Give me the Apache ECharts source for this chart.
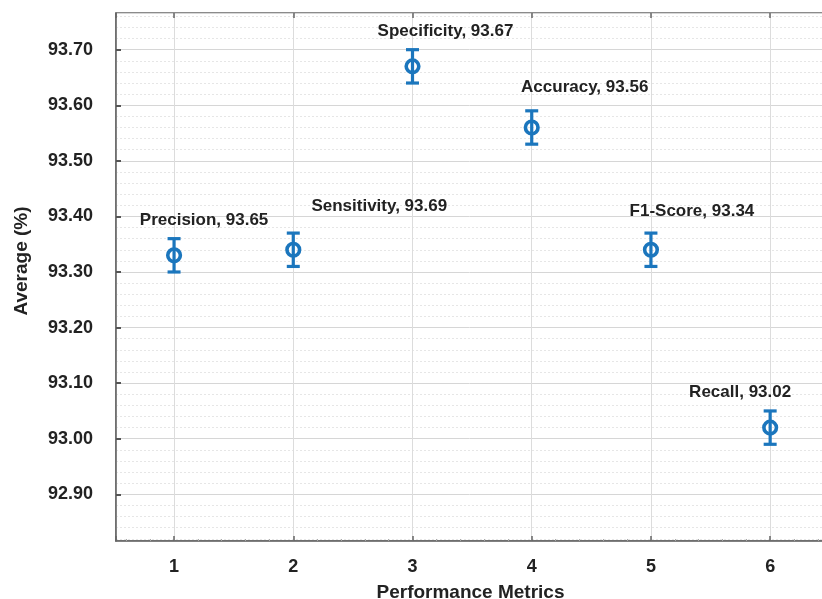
<!DOCTYPE html>
<html>
<head>
<meta charset="utf-8">
<script src="https://cdn.jsdelivr.net/npm/echarts@6/dist/echarts.min.js"></script>
<style>
  html, body { margin: 0; padding: 0; background: #fff; }
  #chart { width: 822px; height: 599px; }
</style>
</head>
<body>
<div id="chart"></div>
<script>
// Performance metrics: mean value with +/- error bar per metric
const metricIndex = [1, 2, 3, 4, 5, 6];
const metricNames = ['Precision', 'Sensitivity', 'Specificity', 'Accuracy', 'F1-Score', 'Recall'];
const meanValues = [93.33, 93.34, 93.67, 93.56, 93.34, 93.02];
const errorValues = [0.03, 0.03, 0.03, 0.03, 0.03, 0.03];
// values printed in each annotation
const reportedValues = [93.65, 93.69, 93.67, 93.56, 93.34, 93.02];

// annotation offsets (label centre relative to marker, px)
const labelOffsets = [[30, -35], [86, -43], [33, -35], [53, -40], [41, -38], [-30, -35]];

const BLUE = '#1b76bd';
const TEXT = '#222';
const FONT = '"Liberation Sans", Arial, sans-serif';

const chart = echarts.init(document.getElementById('chart'));

const data = metricIndex.map((x, i) => [x, meanValues[i], errorValues[i], i]);

chart.setOption({
  animation: false,
  backgroundColor: '#fff',
  grid: {
    left: 116, top: 13, right: -3, bottom: 58,
    outerBoundsMode: 'none',
    containLabel: false,
    show: true, borderColor: '#666', borderWidth: 1.5, backgroundColor: '#fff'
  },
  graphic: [{
    type: 'text',
    x: 22, y: 261,
    rotation: Math.PI / 2,
    style: {
      text: 'Average (%)',
      align: 'center', verticalAlign: 'middle',
      fontFamily: FONT, fontWeight: 'bold', fontSize: 19, fill: TEXT
    }
  }],
  xAxis: [{
    type: 'value',
    min: 0.513, max: 6.46,
    minInterval: 1, maxInterval: 1,
    name: 'Performance Metrics',
    nameLocation: 'middle',
    nameGap: 42,
    nameTextStyle: { fontFamily: FONT, fontWeight: 'bold', fontSize: 19, color: TEXT },
    axisLine: { show: true, lineStyle: { color: '#666', width: 1.5 } },
    axisTick: { show: true, inside: true, length: 5, lineStyle: { color: '#666', width: 1.5 } },
    minorTick: { show: true, splitNumber: 5, length: 2, lineStyle: { color: '#aaa' } },
    axisLabel: {
      showMinLabel: false, showMaxLabel: false, margin: 17,
      fontFamily: FONT, fontWeight: 'bold', fontSize: 18, color: TEXT
    },
    splitLine: { show: true, lineStyle: { color: '#dcdcdc', width: 1 } }
  }, {
    type: 'value',
    position: 'top',
    min: 0.513, max: 6.46,
    minInterval: 1, maxInterval: 1,
    axisLine: { show: false },
    axisTick: { show: true, inside: true, length: 5, lineStyle: { color: '#666', width: 1.5 } },
    axisLabel: { show: false },
    splitLine: { show: false }
  }],
  yAxis: {
    type: 'value',
    min: 92.816, max: 93.766,
    minInterval: 0.1, maxInterval: 0.1,
    axisLine: { show: true, lineStyle: { color: '#666', width: 1.5 } },
    axisTick: { show: true, inside: true, length: 5, lineStyle: { color: '#555', width: 2 } },
    minorTick: { show: false, splitNumber: 5 },
    minorSplitLine: { show: true, lineStyle: { color: '#e6e6e6', width: 1, type: [2, 2] } },
    axisLabel: {
      showMinLabel: false, showMaxLabel: false, margin: 23,
      fontFamily: FONT, fontWeight: 'bold', fontSize: 18, color: TEXT,
      formatter: v => v.toFixed(2)
    },
    splitLine: { show: true, lineStyle: { color: '#d6d6d6', width: 1 } }
  },
  series: [{
    type: 'custom',
    xAxisIndex: 0,
    data: data,
    clip: false,
    renderItem: function (params, api) {
      const x = api.value(0), y = api.value(1), e = api.value(2), i = api.value(3);
      const c = api.coord([x, y]);
      const top = api.coord([x, y + e]);
      const bot = api.coord([x, y - e]);
      const cap = 6.5;
      const r = 6.3;
      const line = { stroke: BLUE, lineWidth: 3.2 };
      const off = labelOffsets[i];
      return {
        type: 'group',
        children: [
          { type: 'line', shape: { x1: c[0], y1: top[1], x2: c[0], y2: bot[1] }, style: line },
          { type: 'line', shape: { x1: c[0] - cap, y1: top[1], x2: c[0] + cap, y2: top[1] }, style: line },
          { type: 'line', shape: { x1: c[0] - cap, y1: bot[1], x2: c[0] + cap, y2: bot[1] }, style: line },
          { type: 'circle', shape: { cx: c[0], cy: c[1], r: r }, style: { fill: 'rgba(255,255,255,0)', stroke: BLUE, lineWidth: 3.6 } },
          {
            type: 'text',
            x: c[0] + off[0], y: c[1] + off[1],
            style: {
              text: metricNames[i] + ', ' + reportedValues[i].toFixed(2),
              align: 'center', verticalAlign: 'middle',
              fontFamily: FONT, fontWeight: 'bold', fontSize: 17, fill: TEXT
            }
          }
        ]
      };
    }
  }]
});
</script>
</body>
</html>
